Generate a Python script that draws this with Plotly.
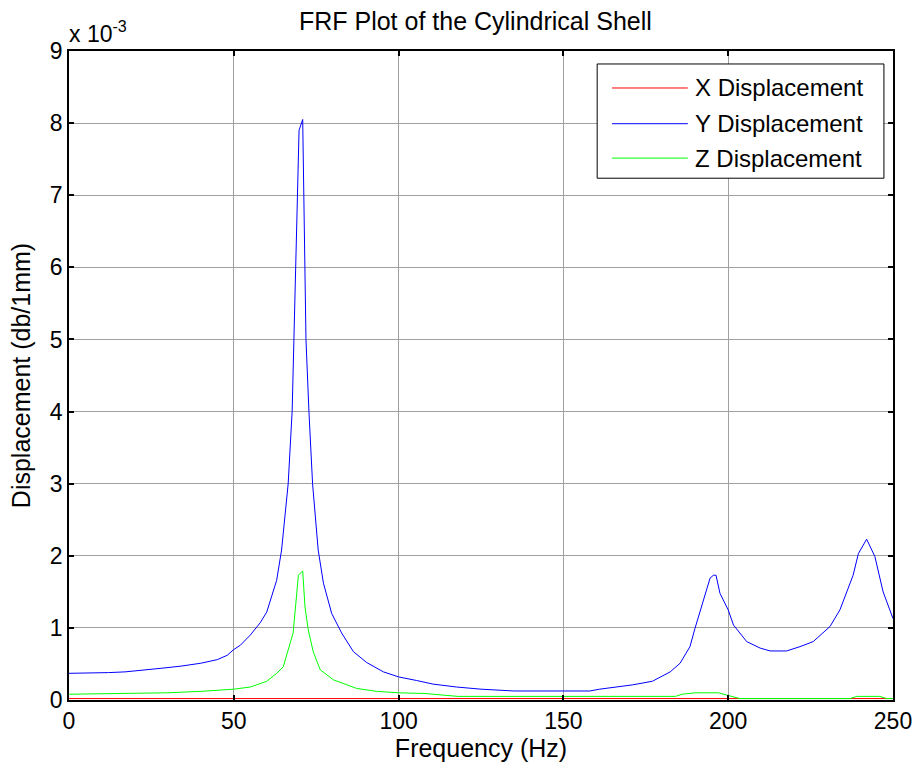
import plotly.graph_objects as go

# Frequency response of the cylindrical shell, displacement in units of 1e-3 (db/1mm)
freq_x = [0, 50, 70, 100, 150, 195, 242, 250]
disp_x = [0.02, 0.02, 0.02, 0.02, 0.02, 0.02, 0.02, 0.02]

freq_y = [0, 5, 12, 17, 22, 28, 34, 40, 45, 48,
          50, 52, 55, 58, 60, 62, 63, 64.5, 65.5, 66.5,
          67.7, 68.2, 68.6, 69.8, 70.9, 71.6, 71.9, 72.8, 73.9, 75.6,
          77.2, 79.7, 82.7, 86.3, 90.3, 95.4, 100, 105.5, 110.5, 117.6,
          125, 135, 158, 161, 171, 177, 182.4, 185.4, 188.4, 189.9,
          191.9, 193.4, 194.5, 195.5, 196.3, 197.5, 200, 201.6, 205.6, 209.7,
          212.7, 217.7, 221.8, 225.8, 230.9, 233.9, 237.9, 239.5, 242, 244.5,
          246, 247, 250]
disp_y = [0.37, 0.37, 0.38, 0.39, 0.41, 0.44, 0.47, 0.51, 0.56, 0.62,
          0.70, 0.76, 0.90, 1.07, 1.22, 1.50, 1.66, 2.08, 2.5, 3.0,
          4.0, 5.0, 5.55, 7.9, 8.05, 5.55, 5.0, 4.0, 3.0, 2.08,
          1.62, 1.2, 0.93, 0.67, 0.52, 0.39, 0.32, 0.27, 0.22, 0.18,
          0.15, 0.125, 0.125, 0.15, 0.21, 0.26, 0.39, 0.51, 0.74, 0.99,
          1.29, 1.53, 1.69, 1.73, 1.73, 1.48, 1.25, 1.04, 0.81, 0.72,
          0.68, 0.68, 0.74, 0.81, 1.02, 1.25, 1.73, 2.03, 2.23, 1.99,
          1.71, 1.5, 1.13]

freq_z = [0, 20, 30, 40, 47, 50, 55, 60, 63, 65,
          68, 69.6, 70.9, 71.6, 72.6, 74.1, 76.2, 80.2, 87.3, 93.3,
          100, 108, 118, 184, 186, 190, 197, 200, 203.5, 237,
          239, 246, 248, 250]
disp_z = [0.08, 0.09, 0.10, 0.12, 0.14, 0.15, 0.18, 0.26, 0.37, 0.46,
          0.93, 1.73, 1.79, 1.29, 0.97, 0.67, 0.42, 0.28, 0.16, 0.12,
          0.10, 0.09, 0.05, 0.05, 0.08, 0.10, 0.10, 0.06, 0.02, 0.02,
          0.05, 0.05, 0.02, 0.02]

series_names = ["X Displacement", "Y Displacement", "Z Displacement"]
series_colors = ["#ff0000", "#0000ff", "#00ff00"]

x_ticks = [0, 50, 100, 150, 200, 250]
y_ticks = [0, 1, 2, 3, 4, 5, 6, 7, 8, 9]

FONT = "Liberation Sans, Arial, Helvetica, sans-serif"

fig = go.Figure()
for name, color, fx, fy in zip(series_names, series_colors,
                               [freq_x, freq_y, freq_z],
                               [disp_x, disp_y, disp_z]):
    fig.add_trace(go.Scatter(x=fx, y=fy, mode="lines", name=name,
                             line=dict(color=color, width=1),
                             showlegend=False))

axis_common = dict(
    showline=True, linecolor="black", linewidth=1.5, mirror="ticks",
    ticks="inside", ticklen=5, tickcolor="black", tickwidth=1.5,
    showgrid=True, gridcolor="#a0a0a0", gridwidth=1,
    zeroline=False, automargin=False,
    tickfont=dict(size=23, color="black", family=FONT),
)

fig.update_xaxes(range=[0, 250], tickvals=x_ticks,
                 title=dict(text="Frequency (Hz)", font=dict(size=25, family=FONT, color="black"),
                            standoff=6),
                 **axis_common)
fig.update_yaxes(range=[0, 9], tickvals=y_ticks,
                 title=dict(text="Displacement (db/1mm)", font=dict(size=25, family=FONT, color="black"),
                            standoff=12),
                 **axis_common)

# Legend box drawn in paper coordinates
lx0, lx1, ly0, ly1 = 0.641, 0.989, 0.804, 0.980
shapes = [dict(type="rect", xref="paper", yref="paper", x0=lx0, x1=lx1, y0=ly0, y1=ly1,
               line=dict(color="black", width=1), fillcolor="white", layer="above")]
annotations = []
row_y = [0.943, 0.888, 0.835]
for name, color, ry in zip(series_names, series_colors, row_y):
    shapes.append(dict(type="line", xref="paper", yref="paper", x0=0.659, x1=0.751,
                       y0=ry, y1=ry, line=dict(color=color, width=1), layer="above"))
    annotations.append(dict(xref="paper", yref="paper", x=0.757, y=ry, text=name,
                            showarrow=False, xanchor="left", yanchor="middle",
                            font=dict(size=24, family=FONT, color="black")))

annotations.append(dict(xref="paper", yref="paper", x=-0.002, y=1.0, yshift=2,
                        text="x 10<sup>-3</sup>", showarrow=False,
                        xanchor="left", yanchor="bottom",
                        font=dict(size=23, family=FONT, color="black")))

fig.update_layout(
    width=916, height=770,
    margin=dict(l=69, r=23, t=51, b=70),
    paper_bgcolor="white", plot_bgcolor="white",
    title=dict(text="FRF Plot of the Cylindrical Shell", x=0.519, xanchor="center",
               y=0.984, yanchor="top",
               font=dict(size=25, family=FONT, color="black")),
    shapes=shapes, annotations=annotations,
    showlegend=False,
)

fig.write_html("out.html")
